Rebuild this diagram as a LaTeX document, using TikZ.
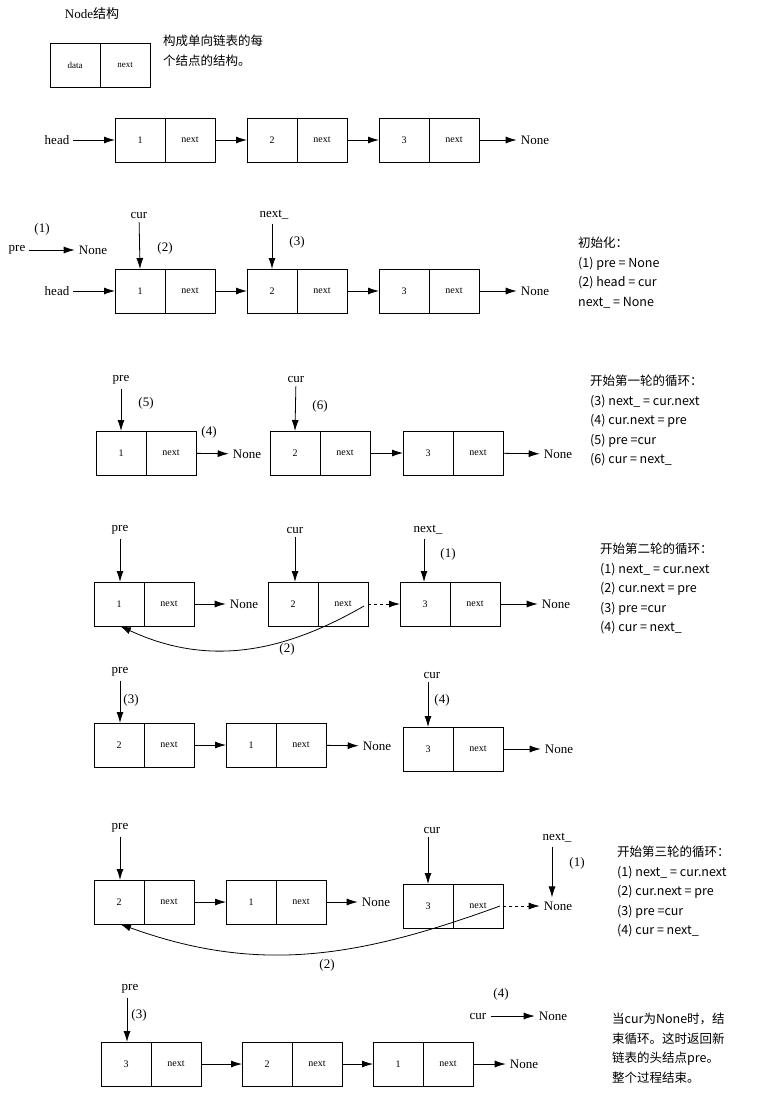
\documentclass[tikz,border=0pt]{standalone}
\usepackage{fontspec}
\setmainfont{Liberation Serif}
\newfontfamily\cjk{Noto Sans CJK SC}
\usetikzlibrary{positioning,arrows.meta}

% one list node: data cell #1 and next cell #1n
\newcommand\lnode[4]{
  \node[dcell] (#1) at (#2,#3) {#4};
  \node[ncell, right=0pt of #1] (#1n) {next};
}

\tikzset{
  dcell/.style={draw, minimum width=50pt, minimum height=44pt, inner sep=0pt,
    outer sep=0pt, font=\fontsize{10}{12}\selectfont},
  ncell/.style={dcell},
  lbl/.style={font=\fontsize{13}{15}\selectfont, inner sep=4pt},
  note/.style={font=\cjk\fontsize{12.5}{19.5}\selectfont, align=left,
    anchor=north west, inner sep=0pt},
  arr/.style={-{Latex[length=11pt,width=7pt]}, line width=0.8pt},
}

\begin{document}
\begin{tikzpicture}[x=1pt,y=-1pt]
  \useasboundingbox (0,0) rectangle (769,1100);

  %% Node structure
  \node[lbl] (title) at (92,14) {Node{\cjk 结构}};
  \node[dcell, font=\fontsize{9}{11}\selectfont] (nd) at (75,65) {data};
  \node[ncell, font=\fontsize{9}{11}\selectfont, right=0pt of nd] (ndn) {next};
  \node[note] (ndtxt) at (163,35) {构成单向链表的每\\个结点的结构。};

  %% Row 1: original list
  \node[lbl] (h1) at (57,140) {head};
  \lnode{a1}{140}{140}{1}
  \lnode{a2}{272}{140}{2}
  \lnode{a3}{404}{140}{3}
  \node[lbl] (a0) at (535,140) {None};
  \draw[arr] (h1) -- (a1);
  \draw[arr] (a1n) -- (a2);
  \draw[arr] (a2n) -- (a3);
  \draw[arr] (a3n) -- (a0);

  %% Row 2: init
  \node[lbl] (h2) at (57,291) {head};
  \lnode{b1}{140}{291}{1}
  \lnode{b2}{272}{291}{2}
  \lnode{b3}{404}{291}{3}
  \node[lbl] (b0) at (535,291) {None};
  \draw[arr] (h2) -- (b1);
  \draw[arr] (b1n) -- (b2);
  \draw[arr] (b2n) -- (b3);
  \draw[arr] (b3n) -- (b0);
  \node[lbl] (bpre) at (17,250) {pre};
  \node[lbl] (bnone) at (93,250) {None};
  \node[lbl] at (42,229) {(1)};
  \draw[arr] (bpre) -- (bnone);
  \node[lbl] (bcur) at (139,215) {cur};
  \draw[arr] (bcur) -- (b1.north);
  \node[lbl] at (165,248) {(2)};
  \node[lbl] (bnext) at (274,215) {next\_};
  \draw[arr] (b2.north|-bnext.south) -- (b2.north);
  \node[lbl] at (297,242) {(3)};
  \node[note] (btxt) at (578,237) {初始化：\\(1) pre = None\\(2) head = cur\\next\_ = None};

  %% Row 3: first loop
  \lnode{c1}{121}{453}{1}
  \node[lbl] (cn1) at (247,454) {None};
  \lnode{c2}{295}{453}{2}
  \lnode{c3}{428}{453}{3}
  \node[lbl] (cn2) at (558,454) {None};
  \draw[arr] (c1n) -- (cn1);
  \draw[arr] (c2n) -- (c3);
  \draw[arr] (c3n) -- (cn2);
  \node[lbl] at (209,432) {(4)};
  \node[lbl] (cpre) at (121,380) {pre};
  \draw[arr] (cpre) -- (c1.north);
  \node[lbl] at (146,403) {(5)};
  \node[lbl] (ccur) at (296,379) {cur};
  \draw[arr] (ccur) -- (c2.north);
  \node[lbl] at (320,406) {(6)};
  \node[note] (ctxt) at (590,375) {开始第一轮的循环：\\(3) next\_ = cur.next\\(4) cur.next = pre\\(5) pre =cur\\(6) cur = next\_};

  %% Row 4: second loop
  \lnode{d1}{119}{604}{1}
  \node[lbl] (dn1) at (244,604) {None};
  \lnode{d2}{293}{604}{2}
  \lnode{d3}{425}{604}{3}
  \node[lbl] (dn2) at (556,604) {None};
  \draw[arr] (d1n) -- (dn1);
  \draw[arr, dashed] (d2n) -- (d3);
  \draw[arr] (d3n) -- (dn2);
  \draw[arr] ([xshift=-4pt,yshift=-2pt]d2n.east) to[out=-150,in=-25] ([xshift=26pt]d1.south west);
  \node[lbl] (dlab) at (287,649) {(2)};
  \node[lbl] (dpre) at (120,530) {pre};
  \draw[arr] (dpre) -- (d1.north-|dpre);
  \node[lbl] (dcur) at (295,530) {cur};
  \draw[arr] (dcur) -- (d2.north-|dcur);
  \node[lbl] (dnext) at (428,530) {next\_};
  \draw[arr] ([xshift=-4pt]dnext.south) -- ([xshift=-4pt]d3.north-|dnext);
  \node[lbl] at (448,554) {(1)};
  \node[note] (dtxt) at (600,543) {开始第二轮的循环：\\(1) next\_ = cur.next\\(2) cur.next = pre\\(3) pre =cur\\(4) cur = next\_};

  %% Row 5
  \lnode{e1}{119}{745}{2}
  \lnode{e2}{251}{745}{1}
  \node[lbl] (en1) at (377,746) {None};
  \lnode{e3}{428}{749}{3}
  \node[lbl] (en2) at (559,749) {None};
  \draw[arr] (e1n) -- (e2);
  \draw[arr] (e2n) -- (en1);
  \draw[arr] (e3n) -- (en2);
  \node[lbl] (epre) at (120,672) {pre};
  \draw[arr] (epre) -- (e1.north-|epre);
  \node[lbl] at (131,700) {(3)};
  \node[lbl] (ecur) at (432,675) {cur};
  \draw[arr] ([xshift=-4pt]ecur.south) -- ([xshift=-4pt]e3.north-|ecur);
  \node[lbl] at (442,700) {(4)};

  %% Row 6: third loop
  \lnode{f1}{119}{902}{2}
  \lnode{f2}{251}{902}{1}
  \node[lbl] (fn1) at (376,902) {None};
  \lnode{f3}{428}{906}{3}
  \node[lbl] (fn2) at (558,906) {None};
  \draw[arr] (f1n) -- (f2);
  \draw[arr] (f2n) -- (fn1);
  \draw[arr, dashed] (f3n) -- (fn2);
  \draw[arr] ([xshift=-3pt]f3n.east) to[out=-160,in=-20] ([xshift=26pt]f1.south west);
  \node[lbl] (flab) at (327,965) {(2)};
  \node[lbl] (fpre) at (120,828) {pre};
  \draw[arr] (fpre) -- (f1.north-|fpre);
  \node[lbl] (fcur) at (432,830) {cur};
  \draw[arr] ([xshift=-4pt]fcur.south) -- ([xshift=-4pt]f3.north-|fcur);
  \node[lbl] (fnext) at (557,838) {next\_};
  \draw[arr] ([xshift=-5pt]fnext.south) -- ([xshift=-5pt]fn2.north-|fnext);
  \node[lbl] at (577,863) {(1)};
  \node[note] (ftxt) at (617,846) {开始第三轮的循环：\\(1) next\_ = cur.next\\(2) cur.next = pre\\(3) pre =cur\\(4) cur = next\_};

  %% Row 7: end
  \lnode{g1}{126}{1064}{3}
  \lnode{g2}{267}{1064}{2}
  \lnode{g3}{398}{1064}{1}
  \node[lbl] (gn) at (524,1064) {None};
  \draw[arr] (g1n) -- (g2);
  \draw[arr] (g2n) -- (g3);
  \draw[arr] (g3n) -- (gn);
  \node[lbl] (gpre) at (130,989) {pre};
  \draw[arr] ([xshift=-3pt]gpre.south) -- ([xshift=-3pt]g1.north-|gpre);
  \node[lbl] at (139,1015) {(3)};
  \node[lbl] (gcur) at (478,1016) {cur};
  \node[lbl] (gnone) at (553,1016) {None};
  \draw[arr] (gcur) -- (gnone);
  \node[lbl] at (501,994) {(4)};
  \node[note] (gtxt) at (612,1013) {当cur为None时，结\\束循环。这时返回新\\链表的头结点pre。\\整个过程结束。};
\end{tikzpicture}
\end{document}
